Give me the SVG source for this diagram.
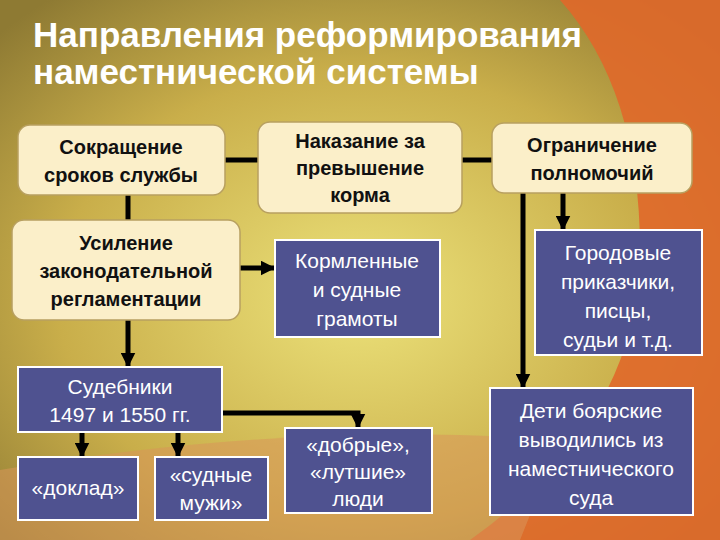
<svg xmlns="http://www.w3.org/2000/svg" width="720" height="540" viewBox="0 0 720 540">
<defs>
<radialGradient id="bg" cx="0.5" cy="0.55" r="0.7">
<stop offset="0" stop-color="#ECE27A"/><stop offset="0.6" stop-color="#C9AE4A"/><stop offset="1" stop-color="#8E7A33"/>
</radialGradient>
<marker id="ah" viewBox="0 0 10 10" refX="9" refY="5" markerWidth="3" markerHeight="3" orient="auto"><path d="M0,0L10,5L0,10z" fill="#000"/></marker>
<style>
.c{fill:#FBEFC9;stroke:#B8A060;stroke-width:1.5}
.b{fill:#4F5290;stroke:#fff;stroke-width:2}
.ct{font-family:"Liberation Sans",Arial,sans-serif;font-weight:bold;font-size:20px;fill:#111;text-anchor:middle}
.bt{font-family:"Liberation Sans",Arial,sans-serif;font-size:21px;fill:#fff;text-anchor:middle}
.l{stroke:#000;stroke-width:5;fill:none}
.a{stroke:#000;stroke-width:5;fill:none;marker-end:url(#ah)}
</style>
</defs>
<rect width="720" height="540" fill="url(#bg)"/>
<path d="M560,0 L720,0 L720,540 L470,540 Q640,420 640,250 Q640,90 560,0z" fill="#E0682A" opacity="0.9"/>
<path d="M0,470 Q300,420 560,440 L520,540 L0,540z" fill="#D9955A" opacity="0.55"/>
<text x="33" y="47" font-family="'Liberation Sans',Arial,sans-serif" font-weight="bold" font-size="35" fill="#fff">Направления реформирования</text>
<text x="33" y="84" font-family="'Liberation Sans',Arial,sans-serif" font-weight="bold" font-size="35" fill="#fff">наместнической системы</text>
<g id="connectors">
<path class="l" d="M225,160H258M462,160H492M128,195V220"/>
<path class="a" d="M240,268H274"/>
<path class="a" d="M128,320V366"/>
<path class="a" d="M563,193V229"/>
<path class="a" d="M523,193V387"/>
<path class="a" d="M222,413H358V427"/>
<path class="a" d="M82,432V456"/>
<path class="a" d="M178,432V456"/>
</g>
<g id="n1"><rect class="c" x="18" y="125" width="207" height="70" rx="12"/><text class="ct" x="121" y="154">Сокращение</text><text class="ct" x="121" y="182">сроков службы</text></g>
<g id="n2"><rect class="c" x="258" y="122" width="204" height="91" rx="12"/><text class="ct" x="360" y="148">Наказание за</text><text class="ct" x="360" y="175">превышение</text><text class="ct" x="360" y="202">корма</text></g>
<g id="n3"><rect class="c" x="492" y="123" width="200" height="70" rx="12"/><text class="ct" x="592" y="152">Ограничение</text><text class="ct" x="592" y="180">полномочий</text></g>
<g id="n4"><rect class="c" x="12" y="220" width="228" height="100" rx="12"/><text class="ct" x="126" y="250">Усиление</text><text class="ct" x="126" y="278">законодательной</text><text class="ct" x="126" y="306">регламентации</text></g>
<g id="n5"><rect class="b" x="275" y="240" width="165" height="97"/><text class="bt" x="357" y="268">Кормленные</text><text class="bt" x="357" y="297">и судные</text><text class="bt" x="357" y="326">грамоты</text></g>
<g id="n6"><rect class="b" x="535" y="230" width="167" height="125"/><text class="bt" x="618" y="260">Городовые</text><text class="bt" x="618" y="289">приказчики,</text><text class="bt" x="618" y="318">писцы,</text><text class="bt" x="618" y="347">судьи и т.д.</text></g>
<g id="n7"><rect class="b" x="18" y="367" width="204" height="65"/><text class="bt" x="120" y="394">Судебники</text><text class="bt" x="120" y="422">1497 и 1550 гг.</text></g>
<g id="n8"><rect class="b" x="18" y="457" width="120" height="63"/><text class="bt" x="78" y="495">«доклад»</text></g>
<g id="n9"><rect class="b" x="155" y="457" width="113" height="63"/><text class="bt" x="211" y="482">«судные</text><text class="bt" x="211" y="510">мужи»</text></g>
<g id="n10"><rect class="b" x="285" y="428" width="147" height="85"/><text class="bt" x="358" y="452">«добрые»,</text><text class="bt" x="358" y="479">«лутшие»</text><text class="bt" x="358" y="506">люди</text></g>
<g id="n11"><rect class="b" x="490" y="388" width="203" height="127"/><text class="bt" x="591" y="418">Дети боярские</text><text class="bt" x="591" y="447">выводились из</text><text class="bt" x="591" y="476">наместнического</text><text class="bt" x="591" y="505">суда</text></g>
</svg>
